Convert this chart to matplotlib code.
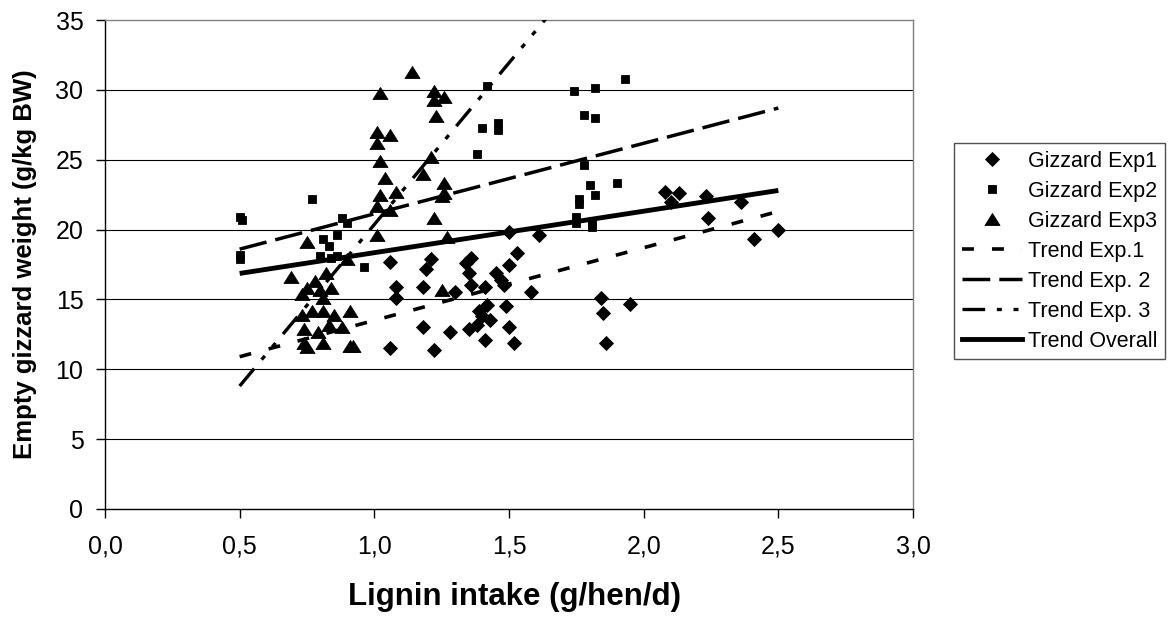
import matplotlib
matplotlib.use("Agg")
import matplotlib.pyplot as plt
from matplotlib.lines import Line2D
from matplotlib.path import Path

plt.rcParams['font.family'] = ['Liberation Sans', 'DejaVu Sans']

# ---- data ----
exp1_x = [1.06, 1.08, 1.08, 1.06, 1.18, 1.19, 1.21, 1.18, 1.22, 1.28, 1.30, 1.34, 1.36, 1.35, 1.36,
          1.41, 1.35, 1.38, 1.39, 1.42, 1.40, 1.43, 1.41, 1.45, 1.47, 1.48, 1.49, 1.50, 1.50, 1.52,
          1.50, 1.53, 1.58, 1.61, 1.84, 1.95, 1.85, 1.86, 2.08, 2.13, 2.10, 2.23, 2.24, 2.36, 2.41, 2.50]
exp1_y = [17.7, 15.9, 15.1, 11.5, 15.9, 17.2, 17.9, 13.0, 11.4, 12.7, 15.5, 17.6, 18.0, 16.9, 16.0,
          15.9, 12.9, 13.2, 14.2, 14.6, 13.8, 13.5, 12.1, 16.9, 16.4, 16.0, 14.5, 19.8, 13.0, 11.9,
          17.5, 18.3, 15.5, 19.6, 15.1, 14.7, 14.0, 11.9, 22.7, 22.6, 22.0, 22.4, 20.8, 22.0, 19.3, 20.0]

exp2_x = [0.50, 0.51, 0.50, 0.50, 0.77, 0.81, 0.83, 0.86, 0.88, 0.90, 0.80, 0.84, 0.86, 0.96, 1.38,
          1.40, 1.42, 1.46, 1.46, 1.74, 1.78, 1.78, 1.80, 1.76, 1.76, 1.75, 1.75, 1.82, 1.93, 1.82,
          1.82, 1.90, 1.81, 1.81]
exp2_y = [20.9, 20.7, 18.2, 17.9, 22.2, 19.3, 18.8, 19.6, 20.8, 20.5, 18.1, 18.0, 18.1, 17.3, 25.4,
          27.3, 30.3, 27.6, 27.1, 29.9, 28.2, 24.6, 23.2, 22.2, 21.8, 20.9, 20.5, 30.1, 30.8, 28.0,
          22.5, 23.3, 20.2, 20.5]

exp3_x = [0.69, 0.75, 0.73, 0.75, 0.78, 0.82, 0.80, 0.81, 0.84, 0.73, 0.77, 0.81, 0.85, 0.83, 0.74,
          0.79, 0.74, 0.75, 0.81, 0.88, 0.91, 0.91, 0.92, 0.90, 1.01, 1.01, 1.02, 1.06, 1.08, 1.04,
          1.02, 1.01, 1.01, 1.06, 1.02, 1.14, 1.22, 1.22, 1.26, 1.23, 1.21, 1.18, 1.26, 1.26, 1.25,
          1.22, 1.27, 1.25]
exp3_y = [16.6, 19.1, 15.4, 15.8, 16.3, 16.9, 15.7, 15.1, 15.8, 13.9, 14.2, 14.2, 13.9, 13.2, 12.9,
          12.7, 11.9, 11.6, 11.9, 13.0, 14.2, 11.7, 11.7, 17.9, 19.6, 21.7, 22.5, 21.4, 22.7, 23.7,
          24.9, 27.0, 26.2, 26.8, 29.8, 31.3, 29.9, 29.3, 29.5, 28.1, 25.2, 24.0, 23.3, 22.6, 22.4,
          20.8, 19.5, 15.7]

trend1_x = [0.5, 2.5]
trend1_y = [10.9, 21.3]
trend2_x = [0.5, 2.5]
trend2_y = [18.6, 28.7]
trend3_x = [0.5, 1.65]
trend3_y = [8.8, 35.4]
trendall_x = [0.5, 2.5]
trendall_y = [16.86, 22.8]

x_ticks = [0.0, 0.5, 1.0, 1.5, 2.0, 2.5, 3.0]
x_ticklabels = ['0,0', '0,5', '1,0', '1,5', '2,0', '2,5', '3,0']
y_ticks = [0, 5, 10, 15, 20, 25, 30, 35]

labels = ['Gizzard Exp1', 'Gizzard Exp2', 'Gizzard Exp3',
          'Trend Exp.1', 'Trend Exp. 2', 'Trend Exp. 3', 'Trend Overall']

# ---- figure ----
W, H = 1169, 617
fig = plt.figure(figsize=(W / 100, H / 100), dpi=100)
ax = fig.add_axes([105 / W, 1 - 509 / H, (913 - 105) / W, (509 - 20) / H])

tri = Path([(-1, -0.8), (1, -0.8), (0, 0.8), (-1, -0.8)],
           [Path.MOVETO, Path.LINETO, Path.LINETO, Path.CLOSEPOLY])

ms_d, ms_s, ms_t = 7.0, 6.2, 10.8
ax.plot(exp1_x, exp1_y, ls='none', marker='D', ms=ms_d, color='black', mew=0.6, zorder=4)
ax.plot(exp2_x, exp2_y, ls='none', marker='s', ms=ms_s, color='black', mew=0.6, zorder=4)
ax.plot(exp3_x, exp3_y, ls='none', marker=tri, ms=ms_t, color='black', mew=0.6, zorder=4)

lw1, lw2, lw3, lw4 = 2.6, 2.5, 2.4, 3.5
d1 = (3.3, 5.0)
d2 = (8.0, 2.6)
d3 = (6.8, 3.5, 1.5, 3.5, 1.5, 3.5)
l1, = ax.plot(trend1_x, trend1_y, color='black', lw=lw1, dashes=d1, zorder=3)
l2, = ax.plot(trend2_x, trend2_y, color='black', lw=lw2, dashes=d2, zorder=3)
l3, = ax.plot(trend3_x, trend3_y, color='black', lw=lw3, dashes=d3, zorder=3)
l4, = ax.plot(trendall_x, trendall_y, color='black', lw=lw4, solid_capstyle='butt', zorder=3)
for l in (l1, l2, l3):
    l.set_dash_capstyle('butt')

ax.set_xlim(0, 3.0)
ax.set_ylim(0, 35)
ax.set_xticks(x_ticks)
ax.set_xticklabels(x_ticklabels)
ax.set_yticks(y_ticks)
ax.tick_params(axis='both', direction='out', length=6.5, width=1, color='black',
               labelsize=18)
ax.tick_params(axis='x', pad=12)
ax.tick_params(axis='y', pad=9)

for yv in y_ticks[1:-1]:
    ax.axhline(yv, color='black', lw=0.8, zorder=1)

ax.spines['left'].set_color('black')
ax.spines['bottom'].set_color('black')
ax.spines['left'].set_linewidth(1.0)
ax.spines['bottom'].set_linewidth(1.0)
ax.spines['top'].set_color('#808080')
ax.spines['right'].set_color('#808080')
ax.spines['top'].set_linewidth(1.0)
ax.spines['right'].set_linewidth(1.0)

fig.text(514 / W, 1 - 605 / H, 'Lignin intake (g/hen/d)', ha='center', va='baseline',
         fontsize=22.5, fontweight='bold')
fig.text(25 / W, 1 - 264 / H, 'Empty gizzard weight (g/kg BW)', ha='center', va='center',
         rotation=90, fontsize=18.5, fontweight='bold')

handles = [
    Line2D([], [], ls='none', marker='D', ms=ms_d, color='black', mew=0.6),
    Line2D([], [], ls='none', marker='s', ms=ms_s, color='black', mew=0.6),
    Line2D([], [], ls='none', marker=tri, ms=ms_t, color='black', mew=0.6),
    Line2D([], [], color='black', lw=lw1, dashes=d1, dash_capstyle='butt'),
    Line2D([], [], color='black', lw=lw2, dashes=d2, dash_capstyle='butt'),
    Line2D([], [], color='black', lw=lw3, dashes=d3, dash_capstyle='butt'),
    Line2D([], [], color='black', lw=lw4),
]
leg = fig.legend(handles, labels, loc='upper left', bbox_to_anchor=(954 / W, 1 - 143 / H),
                 fontsize=15.5, frameon=True, fancybox=False, framealpha=1,
                 edgecolor='#505050', handlelength=2.8, handletextpad=0.3,
                 borderpad=0.35, labelspacing=0.42, borderaxespad=0)
leg.get_frame().set_linewidth(1.0)

fig.savefig('out.png', dpi=100)
